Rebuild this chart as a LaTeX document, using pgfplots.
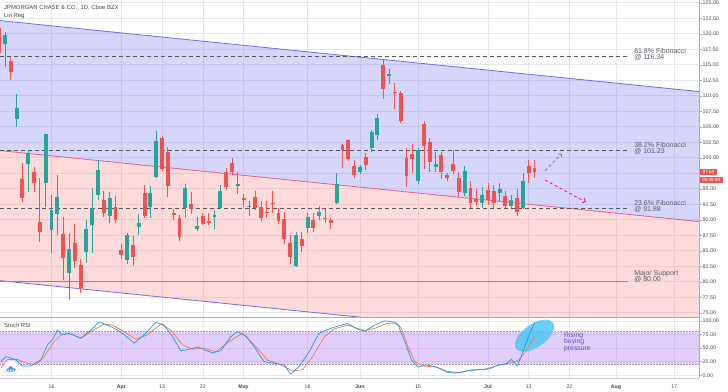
\documentclass[border=0pt]{standalone}
\usepackage{fontspec}
\setmainfont{Liberation Sans}
\usepackage{pgfplots}
\pgfplotsset{compat=1.18}
\usepackage{pgfplotstable}
\usetikzlibrary{arrows.meta,shapes.geometric}

\definecolor{upc}{HTML}{26A69A}
\definecolor{dnc}{HTML}{EF5350}
\definecolor{chanfillb}{RGB}{108,108,243}
\definecolor{chanfillr}{RGB}{248,126,126}
\definecolor{chanline}{RGB}{110,110,225}
\definecolor{midline}{RGB}{228,95,140}
\definecolor{fibc}{RGB}{85,85,92}
\definecolor{supc}{RGB}{150,142,95}
\definecolor{labc}{RGB}{90,92,105}
\definecolor{bandbase}{RGB}{172,115,241}
\definecolor{bandl}{RGB}{165,145,200}
\definecolor{rsib}{HTML}{2196F3}
\definecolor{rsio}{RGB}{245,120,60}
\definecolor{ellc}{RGB}{80,200,242}
\definecolor{risec}{RGB}{105,70,180}
\definecolor{arrg}{RGB}{110,150,110}
\definecolor{arrr}{RGB}{230,40,100}
\definecolor{gridc}{RGB}{230,232,238}
\definecolor{axc}{RGB}{170,172,180}
\definecolor{logoc}{RGB}{60,150,220}

% up candles: index open high low close
\pgfplotstableread{
i O H L C
1 118.29 120.32 114.63 119.79
3 106.20 110.27 104.90 108.06
5 98.94 101.24 94.52 100.71
8 95.87 103.90 92.10 103.82
9 88.34 93.98 84.58 91.56
10 90.87 97.21 87.53 93.71
12 81.45 87.80 77.05 85.23
15 84.84 89.95 82.97 88.45
16 89.15 95.06 84.58 91.84
17 93.98 99.60 93.20 98.02
19 90.60 94.52 89.42 93.45
22 83.50 87.80 82.90 87.53
24 88.87 90.87 87.53 89.42
26 92.00 95.40 90.30 94.26
27 96.84 104.31 96.68 102.74
32 91.84 95.70 90.30 95.16
34 88.50 90.40 88.20 89.03
37 90.50 91.50 88.50 90.76
38 91.84 95.60 91.70 94.63
41 95.50 97.70 94.20 95.80
43 92.10 93.00 90.60 92.25
51 82.53 88.10 82.30 87.53
53 88.61 91.10 87.80 90.39
55 90.60 92.20 90.00 91.30
58 92.74 97.48 92.50 95.76
62 97.65 98.80 97.30 98.55
64 101.50 104.50 101.00 104.20
65 103.66 107.00 102.80 106.35
67 113.20 114.30 111.90 113.50
72 96.29 101.50 95.70 101.24
75 98.55 101.00 97.70 98.92
80 94.26 98.60 93.90 97.90
83 92.74 95.20 91.90 93.98
86 94.36 95.90 93.00 94.90
88 92.20 94.00 91.90 93.18
90 91.94 97.50 91.80 96.24
}\up

% down candles
\pgfplotstableread{
i O H L C
0 121.00 121.60 116.00 116.84
2 115.65 116.20 112.53 113.87
4 96.52 99.10 92.90 93.45
6 97.65 98.55 94.52 95.87
7 89.58 96.68 86.45 87.97
11 87.64 90.48 80.27 83.77
13 86.29 89.31 82.16 83.39
14 82.69 83.61 78.13 78.94
18 93.18 94.68 90.48 91.13
20 92.00 93.80 89.40 89.95
21 85.11 86.10 83.70 84.30
23 85.92 87.30 82.60 83.93
25 94.35 95.60 90.30 90.60
28 103.13 103.50 97.90 98.13
29 100.97 101.77 93.61 95.44
30 91.13 91.80 89.95 90.76
31 90.23 90.80 86.50 87.26
33 92.48 94.52 91.00 91.68
35 90.65 91.10 89.10 89.31
36 89.79 91.10 89.20 89.42
39 97.74 98.30 94.80 95.22
40 99.10 99.90 97.20 97.74
42 93.45 94.20 92.00 93.18
44 93.60 94.60 91.50 91.90
45 92.10 93.00 89.80 90.23
46 91.30 93.10 90.30 91.13
47 92.74 94.60 91.10 92.50
48 91.03 91.90 89.30 89.84
49 90.07 91.30 86.10 86.89
50 86.29 87.60 82.90 83.93
52 86.89 88.10 84.80 85.76
54 89.95 91.10 88.10 88.61
56 90.30 91.70 89.40 90.07
57 89.95 90.30 88.50 89.42
59 102.05 102.20 98.40 101.24
60 102.85 103.10 99.50 99.74
61 98.66 99.60 96.70 97.21
63 100.16 100.70 98.00 98.82
66 114.95 115.76 109.42 111.08
68 110.60 112.10 107.80 110.40
69 110.39 110.80 105.60 105.92
70 99.90 101.60 95.20 97.05
71 100.60 102.20 97.50 99.80
73 105.43 105.90 98.20 101.93
74 102.48 103.20 97.70 99.35
76 100.44 100.90 96.60 97.74
77 97.21 97.60 96.20 96.68
78 98.94 101.20 97.30 97.90
79 96.68 97.70 93.60 94.52
81 95.06 96.20 91.90 92.65
82 93.30 95.00 92.30 92.90
84 94.80 95.90 92.40 93.18
85 94.68 95.60 91.90 92.65
87 93.87 94.60 91.90 92.20
89 93.45 95.00 90.60 91.30
91 98.66 99.60 95.90 97.58
92 98.30 99.60 96.80 97.63
}\down

% Stoch RSI %K
\pgfplotstableread{
x y
0.29 25
1.15 34
2.87 29
4.01 17
5.44 17
7.16 28
8.31 56
9.17 65
10.03 83
10.88 74
12.03 77
14.04 68
15.75 83
17.18 98
18.62 92
20.33 83
21.77 72
23.2 59
24.92 74
26.92 97
28.35 92
29.78 71
31.22 45
32.93 48
34.08 52
35.22 47
36.66 41
38.09 45
39.81 71
40.95 80
42.38 72
43.82 52
45.54 25
47.25 22
48.97 19
50.12 2
51.55 16
53.27 43
54.98 77
56.99 86
58.13 90
59.85 95
61.57 85
62.83 81
64.55 92
66.27 100
67.7 98
68.56 92
69.7 62
70.85 28
71.99 15
73.43 19
75.14 15
77.15 5
78.87 4
80.3 8
82.3 10
84.31 12
85.74 19
87.17 21
88.03 29
89.06 17
90.32 52
91.18 77
92.04 97
}\rsik

% Stoch RSI %D
\pgfplotstableread{
x y
0.29 13
1.43 29
3.15 29
4.87 22
6.3 19
7.73 34
9.45 62
10.88 76
12.32 76
14.04 68
15.75 80
18.04 94
19.48 92
21.48 80
23.48 66
25.49 74
27.78 94
29.5 83
31.5 56
33.22 48
35.22 50
37.23 43
39.52 62
41.81 77
43.82 56
46.11 28
48.4 19
50.4 8
52.12 10
53.84 34
55.84 70
57.56 85
59.85 92
61.86 85
62.83 82
64.55 86
66.55 95
68.27 96
69.13 86
70.28 52
71.42 25
72.85 17
75.14 15
77.15 7
79.15 5
81.16 10
83.45 11
85.74 18
88.03 23
89.18 27
90.32 41
92.04 71
}\rsid

\pgfplotsset{
  tvstyle/.style={
    scale only axis, width=699pt,
    xmin=0.15, xmax=120.26,
    axis line style={draw=none},
    xtick={9,21,28,35,42,53,62,72,84,91,98,106,116},
    xtick style={draw=none},
    ytick pos=right, yticklabel pos=right,
    tick align=outside, major tick length=2.5pt,
    ytick style={axc, line width=0.4pt},
    grid=major, major grid style={gridc, line width=0.5pt},
    yticklabel style={font=\fontsize{5.3}{6}\selectfont, text=black!72, inner sep=1pt},
    yticklabel={\pgfmathprintnumber[fixed,fixed zerofill,precision=2]{\tick}},
    /pgf/number format/assume math mode=true,
  },
  wick/.style={draw=none, forget plot, error bars/.cd, y dir=plus, y explicit,
    error mark=none, error bar style={draw=#1, line width=0.8pt}},
  body/.style={draw=none, forget plot, error bars/.cd, y dir=plus, y explicit,
    error mark=none, error bar style={draw=#1, line width=3.9pt}},
}

\begin{document}
\begin{tikzpicture}[x=1pt,y=1pt]
\useasboundingbox (0,0) rectangle (728,391);
\fill[white] (0,0) rectangle (728,391);

% ---------------- main price panel ----------------
\begin{axis}[tvstyle,
  at={(0pt,74pt)}, anchor=south west, height=317pt,
  ymin=74.31, ymax=125.44,
  xticklabels={},
  ytick={75,77.5,80,82.5,85,87.5,90,92.5,95,97.5,100,102.5,105,107.5,110,112.5,115,117.5,120,122.5,125},
  yticklabels={75.00,77.50,80.00,82.50,85.00,87.50,90.00,92.50,95.00,,100.00,102.50,105.00,107.50,110.00,112.50,115.00,117.50,120.00,122.50,125.00},
]
% linear regression channel
\addplot[draw=none, fill=chanfillb, fill opacity=0.28, forget plot]
  coordinates {(0,122.13) (121,110.60) (121,89.63) (0,101.16)} -- cycle;
\addplot[draw=none, fill=chanfillr, fill opacity=0.28, forget plot]
  coordinates {(0,101.16) (121,89.63) (121,68.66) (0,80.19)} -- cycle;
\addplot[chanline, line width=0.8pt, forget plot] coordinates {(0,122.13) (121,110.60)};
\addplot[midline, line width=0.8pt, forget plot] coordinates {(0,101.16) (121,89.63)};
\addplot[chanline, line width=0.8pt, forget plot] coordinates {(0,80.19) (121,68.66)};

% Fibonacci levels and support
\addplot[fibc, line width=0.8pt, dash pattern=on 4pt off 3pt, forget plot] coordinates {(0.15,116.34) (108,116.34)};
\addplot[fibc, line width=0.8pt, dash pattern=on 4pt off 3pt, forget plot] coordinates {(0.15,101.23) (108,101.23)};
\addplot[fibc, line width=0.8pt, dash pattern=on 4pt off 3pt, forget plot] coordinates {(0.15,91.88) (108,91.88)};
\addplot[supc, line width=1.2pt, forget plot] coordinates {(0.15,80) (108,80)};

% candles
\addplot[wick=upc] table[x=i, y=L, y error expr=\thisrow{H}-\thisrow{L}] {\up};
\addplot[wick=dnc] table[x=i, y=L, y error expr=\thisrow{H}-\thisrow{L}] {\down};
\addplot[body=upc] table[x=i, y=O, y error expr=\thisrow{C}-\thisrow{O}] {\up};
\addplot[body=dnc] table[x=i, y=C, y error expr=\thisrow{O}-\thisrow{C}] {\down};

% projections
\draw[arrg, line width=0.9pt, dash pattern=on 3pt off 2.5pt, -{Straight Barb[length=2.5pt,width=5pt]}]
  (axis cs:93.8,97.9) -- (axis cs:96.7,100.68);
\draw[arrr, line width=0.9pt, dash pattern=on 3pt off 2.5pt, -{Straight Barb[length=2.5pt,width=5pt]}]
  (axis cs:93.8,96.4) -- (axis cs:100.84,92.85);

% level labels
\begin{scope}[every node/.style={anchor=base west, inner sep=0pt, text=labc, font=\fontsize{7}{8}\selectfont}]
\node at (axis cs:109.1,116.81) {61.8\% Fibonacci};
\node at (axis cs:109.1,115.87) {@ 116.34};
\node at (axis cs:109.1,101.70) {38.2\% Fibonacci};
\node at (axis cs:109.1,100.75) {@ 101.23};
\node at (axis cs:109.1,92.37) {23.6\% Fibonacci};
\node at (axis cs:109.1,91.37) {@ 91.88};
\node at (axis cs:109.1,80.95) {Major Support};
\node at (axis cs:109.1,80.02) {@ 80.00};
\end{scope}
\coordinate (pl) at (axis cs:120.26,97.63);
\end{axis}

% ---------------- Stoch RSI panel ----------------
\begin{axis}[tvstyle,
  at={(0pt,13pt)}, anchor=south west, height=60.5pt,
  ymin=-5, ymax=106,
  ytick={0,25,50,75,100},
  xticklabels={16,\textbf{Apr},13,22,\textbf{May},18,\textbf{Jun},15,\textbf{Jul},13,22,\textbf{Aug},17},
  xticklabel style={font=\fontsize{5.2}{6}\selectfont, text=black!72, yshift=-1pt},
]
\addplot[draw=none, fill=bandbase, fill opacity=0.35, forget plot]
  coordinates {(0,20) (121,20) (121,80) (0,80)} -- cycle;
\addplot[bandl, line width=0.5pt, dash pattern=on 1.5pt off 1.5pt, forget plot] coordinates {(0,80) (121,80)};
\addplot[bandl, line width=0.5pt, dash pattern=on 1.5pt off 1.5pt, forget plot] coordinates {(0,20) (121,20)};
\node[ellipse, fill=ellc, fill opacity=0.85, minimum width=45pt, minimum height=23pt, inner sep=0pt, rotate=35]
  at (axis cs:92.0,72.7) {};
\addplot[rsio, line width=0.7pt] table[x=x, y=y] {\rsid};
\addplot[rsib, line width=0.7pt] table[x=x, y=y] {\rsik};
\begin{scope}[every node/.style={anchor=base west, inner sep=0pt, text=risec, font=\fontsize{6.8}{7}\selectfont}]
\node at (axis cs:97.06,69.7) {Rising};
\node at (axis cs:97.06,58.2) {buying};
\node at (axis cs:97.06,46.0) {pressure};
\end{scope}
\end{axis}

% panel borders
\draw[axc, line width=1.3pt] (0,73.7) -- (699,73.7);
\draw[axc, line width=0.7pt] (699,13) -- (699,391);
\draw[gridc!50!axc, line width=0.4pt] (0,13) -- (699,13);

% titles
\begin{scope}[every node/.style={anchor=base west, inner sep=0pt, text=black!72, font=\fontsize{5.9}{7}\selectfont}]
\node at (4,381) {JPMORGAN CHASE \& CO., 1D, Cboe BZX};
\node at (4,373.3) {Lin Reg};
\node at (4,63.7) {Stoch RSI};
\end{scope}

% last price boxes
\node[fill=dnc, text=white, font=\fontsize{4.6}{5}\selectfont, inner xsep=3pt, inner ysep=1pt,
  minimum height=6pt, anchor=west] (pb) at ([xshift=0.5pt]pl) {97.63};
\node[fill=dnc, text=white, font=\fontsize{4.6}{5}\selectfont, inner xsep=2.5pt, inner ysep=1pt,
  minimum height=6pt, anchor=north west] at ([yshift=-1.6pt]pb.south west) {06:08:38};

% logo
\fill[white] (11,23) circle (7.5);
\draw[gray!25, line width=0.4pt] (11,23) circle (7.5);
\fill[logoc] (7.6,19.3) rectangle (14.2,21.3)
  (7.7,21.0) circle (1.7) (10.7,22.4) circle (2.4) (14.0,21.1) circle (1.8);
\end{tikzpicture}
\end{document}
